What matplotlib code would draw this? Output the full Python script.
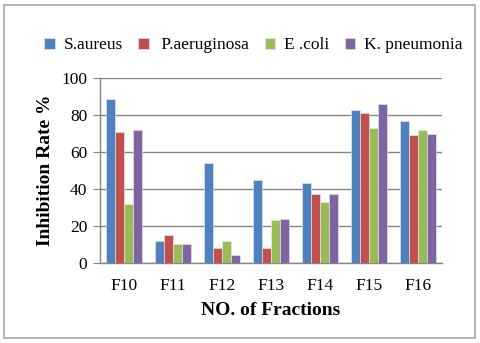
import matplotlib.pyplot as plt
import matplotlib.patches as mpatches
import numpy as np

fractions = ['F10', 'F11', 'F12', 'F13', 'F14', 'F15', 'F16']
s_aureus = [89, 12, 54, 45, 43, 83, 77]
p_aeruginosa = [71, 15, 8, 8, 37, 81, 69]
e_coli = [32, 10, 12, 23, 33, 73, 72]
k_pneumonia = [72, 10, 4, 23.5, 37, 86, 70]

series = [s_aureus, p_aeruginosa, e_coli, k_pneumonia]
labels = ['S.aureus', ' P.aeruginosa', 'E .coli', 'K. pneumonia']
colors = ['#4F81BD', '#C0504D', '#9BBB59', '#8064A2']

plt.rcParams['font.family'] = ['Liberation Serif', 'DejaVu Serif']

fig = plt.figure(figsize=(4.8, 3.43), dpi=100)
ax = fig.add_axes([0.208, 0.234, 0.713, 0.538])

# outer frame like the Excel chart area
fig.patches.append(mpatches.Rectangle((4 / 480, 5 / 343), 471 / 480, 333 / 343,
                                      transform=fig.transFigure, fill=False,
                                      edgecolor='#a6a6a6', linewidth=1.2))

x = np.arange(len(fractions))
w = 0.184
for i, (vals, c, lab) in enumerate(zip(series, colors, labels)):
    ax.bar(x + (i - 1.5) * w, vals, w, color=c, label=lab,
           edgecolor='#e8eef6', linewidth=0.4, zorder=3)

ax.set_xlim(-0.5, len(fractions) - 0.5)
ax.set_ylim(0, 100)
ax.set_yticks(range(0, 101, 20))
ax.set_xticks(x)
ax.set_xticklabels(fractions)
ax.tick_params(axis='y', length=5, color='#868686', labelsize=12.5, pad=4)
ax.tick_params(axis='x', length=0, labelsize=12.5, pad=11)
ax.grid(axis='y', color='#868686', linewidth=1, zorder=0)

for side in ['top', 'right']:
    ax.spines[side].set_visible(False)
for side in ['left', 'bottom']:
    ax.spines[side].set_color('#868686')
    ax.spines[side].set_linewidth(1)

ax.set_xlabel('NO. of Fractions', fontsize=14, fontweight='bold', labelpad=6)
ax.set_ylabel('Inhibition Rate %', fontsize=14, fontweight='bold', labelpad=5)

fig.legend(loc='center', bbox_to_anchor=(0.528, 0.868), ncol=4, frameon=False,
           fontsize=12.5, handlelength=0.6, handleheight=0.6, handletextpad=0.5,
           columnspacing=0.9)

plt.savefig('out.png', dpi=100)
plt.close()
